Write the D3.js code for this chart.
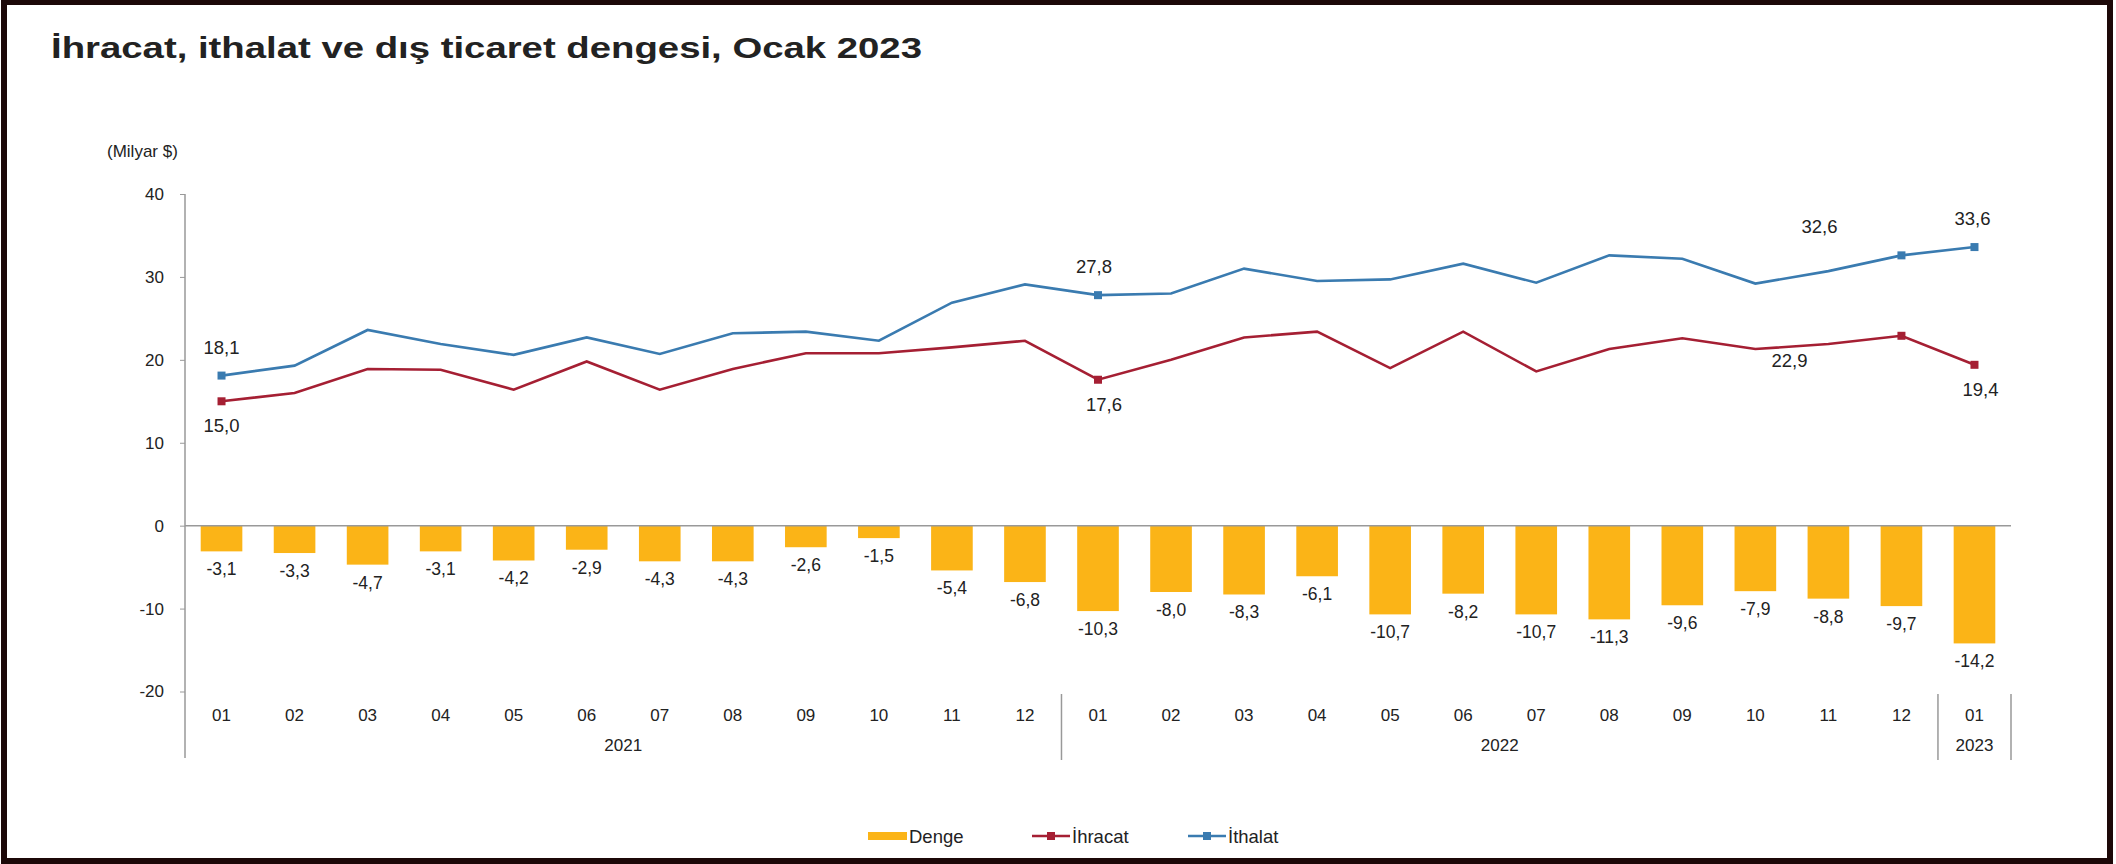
<!DOCTYPE html>
<html>
<head>
<meta charset="utf-8">
<script src="https://cdn.jsdelivr.net/npm/d3@7"></script>
<style>
  body { margin: 0; background: #fff; }
  text { font-family: "Liberation Sans", Arial, sans-serif; fill: #222; }
</style>
</head>
<body>
<div id="chart"></div>
<script>
// months and years on the x axis
var months = ["01","02","03","04","05","06","07","08","09","10","11","12",
              "01","02","03","04","05","06","07","08","09","10","11","12","01"];
var yearLabels = ["2021", "2022", "2023"];
var yearFirst = [0, 12, 24];
var yearLast = [11, 23, 24];

// Milyar $
var denge = [-3.1, -3.3, -4.7, -3.1, -4.2, -2.9, -4.3, -4.3, -2.6, -1.5, -5.4, -6.8,
             -10.3, -8.0, -8.3, -6.1, -10.7, -8.2, -10.7, -11.3, -9.6, -7.9, -8.8, -9.7, -14.2];
var ihracat = [15.0, 16.0, 18.9, 18.8, 16.4, 19.8, 16.4, 18.9, 20.8, 20.8, 21.5, 22.3,
               17.6, 20.0, 22.7, 23.4, 19.0, 23.4, 18.6, 21.3, 22.6, 21.3, 21.9, 22.9, 19.4];
var ithalat = [18.1, 19.3, 23.6, 21.9, 20.6, 22.7, 20.7, 23.2, 23.4, 22.3, 26.9, 29.1,
               27.8, 28.0, 31.0, 29.5, 29.7, 31.6, 29.3, 32.6, 32.2, 29.2, 30.7, 32.6, 33.6];
var labeled = [0, 12, 23, 24];
var yTicks = [-20, -10, 0, 10, 20, 30, 40];

var W = 2116, H = 864;
var left = 185, right = 2011;

var loc = d3.formatLocale({decimal: ",", thousands: ".", grouping: [3], currency: ["", "$"], minus: "-"});
var fmt = loc.format(".1f");

var svg = d3.select('#chart').append('svg').attr('width', W).attr('height', H);

svg.append('rect').attr('width', W).attr('height', H).attr('fill', '#fff');
// dark frame round the picture
svg.append('rect')
   .attr('x', 4).attr('y', 2).attr('width', W - 10).attr('height', H - 5)
   .attr('fill', 'none').attr('stroke', '#1c0808').attr('stroke-width', 6);

svg.append('text')
   .attr('x', 51).attr('y', 58)
   .attr('font-size', 30).attr('font-weight', 'bold')
   .attr('textLength', 871).attr('lengthAdjust', 'spacingAndGlyphs')
   .text('İhracat, ithalat ve dış ticaret dengesi, Ocak 2023');

svg.append('text')
   .attr('x', 107).attr('y', 157)
   .attr('font-size', 17)
   .text('(Milyar $)');

var x = d3.scaleBand().domain(d3.range(months.length))
   .range([left, right]).paddingInner(0.43).paddingOuter(0.215);
var y = d3.scaleLinear().domain([-20, 40]).range([691.5, 194]);
var cx = function(i) { return x(i) + x.bandwidth() / 2; };

// y axis
var yAxis = svg.append('g').attr('transform', 'translate(' + left + ',0)')
   .call(d3.axisLeft(y).tickValues(yTicks).tickSize(5).tickPadding(16).tickFormat(loc.format('d')));
yAxis.select('.domain').remove();
yAxis.selectAll('line').attr('stroke', '#999');
yAxis.selectAll('text').attr('font-size', 17).attr('font-family', '"Liberation Sans", Arial, sans-serif').attr('fill', '#222');
svg.append('line').attr('x1', left).attr('x2', left).attr('y1', 194).attr('y2', 758)
   .attr('stroke', '#999').attr('stroke-width', 1.5);

// bars
svg.selectAll('rect.bar').data(denge).enter().append('rect')
   .attr('class', 'bar')
   .attr('x', function(d, i) { return x(i); })
   .attr('y', y(0))
   .attr('width', x.bandwidth())
   .attr('height', function(d) { return y(d) - y(0); })
   .attr('fill', '#fbb417');

svg.selectAll('text.bl').data(denge).enter().append('text')
   .attr('class', 'bl')
   .attr('x', function(d, i) { return cx(i); })
   .attr('y', function(d) { return y(d) + 24; })
   .attr('text-anchor', 'middle').attr('font-size', 17.5)
   .text(function(d) { return fmt(d); });

// zero line
svg.append('line').attr('x1', left).attr('x2', right).attr('y1', y(0)).attr('y2', y(0))
   .attr('stroke', '#999').attr('stroke-width', 1.5);

// lines
var line = d3.line().x(function(d, i) { return cx(i); }).y(function(d) { return y(d); });
var series = [
  {values: ithalat, color: '#3a7bb0', dy: -22, dx: [0, -4, -82, -2]},
  {values: ihracat, color: '#a51f33', dy: 31, dx: [0, 6, -112, 6]}
];
series.forEach(function(s) {
  svg.append('path').datum(s.values).attr('d', line)
     .attr('fill', 'none').attr('stroke', s.color).attr('stroke-width', 2.6);
  svg.selectAll(null).data(labeled).enter().append('rect')
     .attr('x', function(i) { return cx(i) - 4; })
     .attr('y', function(i) { return y(s.values[i]) - 4; })
     .attr('width', 8).attr('height', 8).attr('fill', s.color);
  svg.selectAll(null).data(labeled).enter().append('text')
     .attr('x', function(i, k) { return cx(i) + s.dx[k]; })
     .attr('y', function(i) { return y(s.values[i]) + s.dy; })
     .attr('text-anchor', 'middle').attr('font-size', 18.5)
     .text(function(i) { return fmt(s.values[i]); });
});

// month labels
svg.selectAll('text.m').data(months).enter().append('text')
   .attr('class', 'm')
   .attr('x', function(d, i) { return cx(i); })
   .attr('y', 721)
   .attr('text-anchor', 'middle').attr('font-size', 17)
   .text(function(d) { return d; });

// year labels and separators
yearLabels.forEach(function(lab, k) {
  var a = x(yearFirst[k]) - x.step() * x.paddingInner() / 2;
  var b = x(yearLast[k]) + x.bandwidth() + x.step() * x.paddingInner() / 2;
  svg.append('text').attr('x', (a + b) / 2).attr('y', 751)
     .attr('text-anchor', 'middle').attr('font-size', 17).text(lab);
  if (k > 0) {
    svg.append('line').attr('x1', a).attr('x2', a).attr('y1', 694).attr('y2', 760)
       .attr('stroke', '#999').attr('stroke-width', 1.5);
  }
});
svg.append('line').attr('x1', right).attr('x2', right).attr('y1', 694).attr('y2', 760)
   .attr('stroke', '#999').attr('stroke-width', 1.5);

// legend
var lg = svg.append('g').attr('transform', 'translate(0,836)');
lg.append('rect').attr('x', 868).attr('y', -4).attr('width', 39).attr('height', 8).attr('fill', '#fbb417');
lg.append('text').attr('x', 909).attr('y', 6.5).attr('font-size', 18.5).text('Denge');
[{x: 1032, color: '#a51f33', label: 'İhracat'}, {x: 1188, color: '#3a7bb0', label: 'İthalat'}].forEach(function(l) {
  lg.append('line').attr('x1', l.x).attr('x2', l.x + 38).attr('y1', 0).attr('y2', 0)
    .attr('stroke', l.color).attr('stroke-width', 2.6);
  lg.append('rect').attr('x', l.x + 15).attr('y', -4).attr('width', 8).attr('height', 8).attr('fill', l.color);
  lg.append('text').attr('x', l.x + 40).attr('y', 6.5).attr('font-size', 18.5).text(l.label);
});
</script>
</body>
</html>
